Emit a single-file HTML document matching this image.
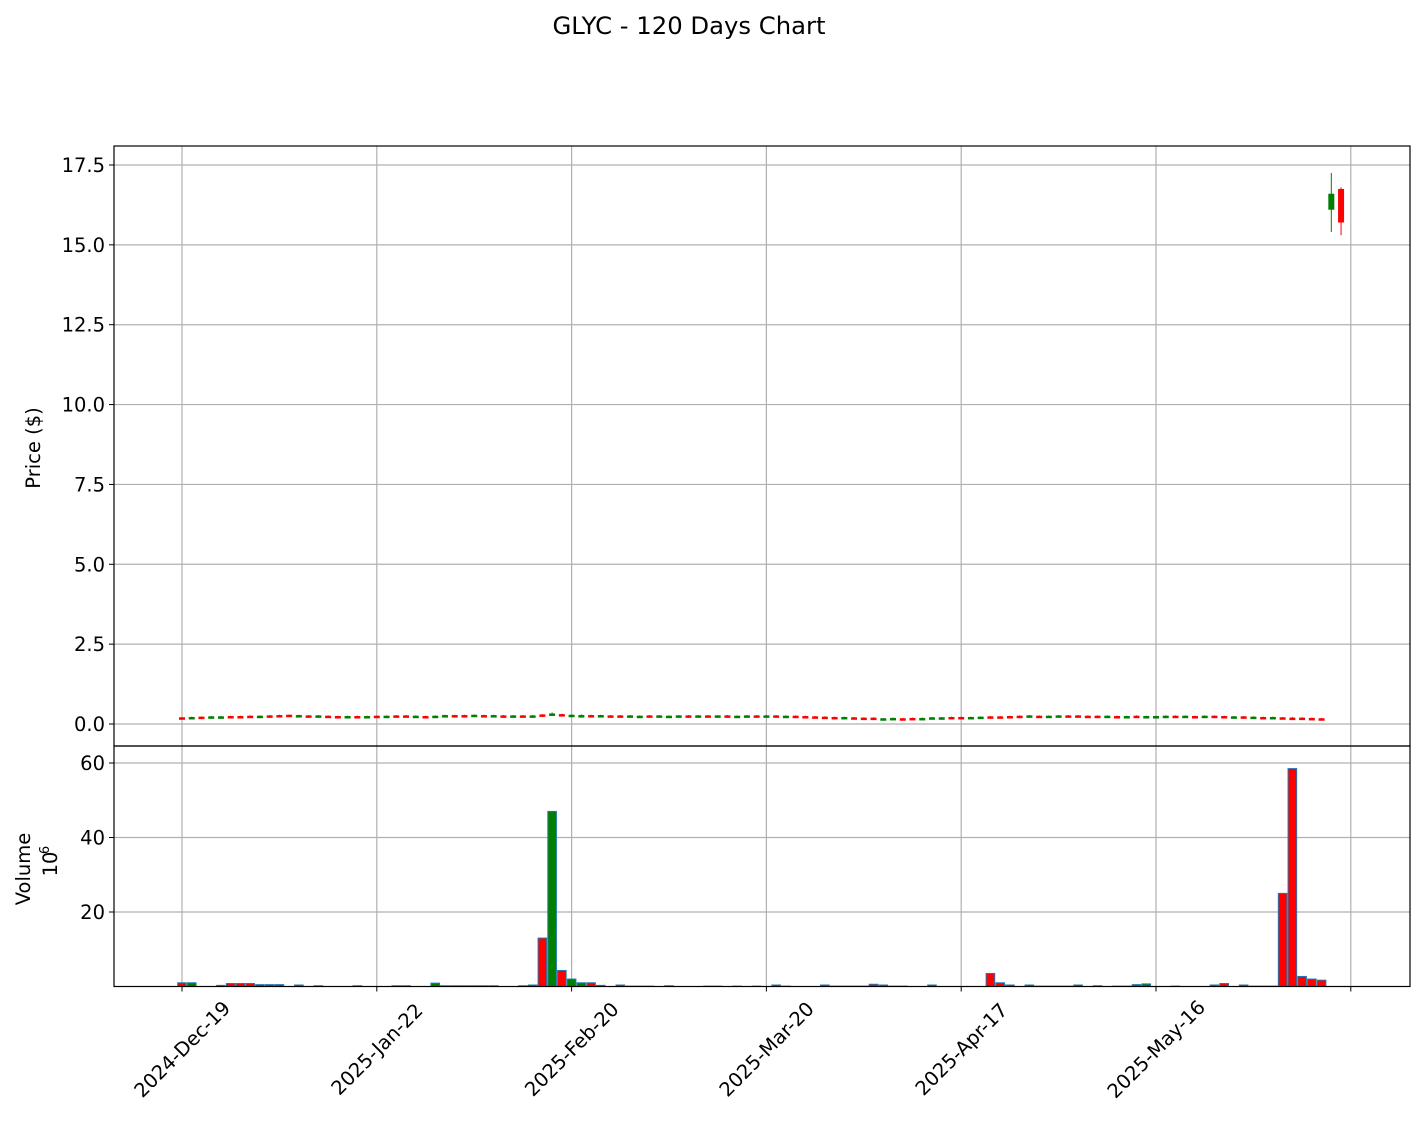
<!DOCTYPE html>
<html><head><meta charset="utf-8"><style>body{margin:0;background:#fff}svg{display:block;font-family:"DejaVu Sans","Liberation Sans",sans-serif}</style></head>
<body>
<svg id="c" width="1424" height="1127"></svg>
<script>
const tickLabels=["2024-Dec-19","2025-Jan-22","2025-Feb-20","2025-Mar-20","2025-Apr-17","2025-May-16",""];
const tickIdx=[0,20,40,60,80,100,120];
const priceTicks=[0,2.5,5,7.5,10,12.5,15,17.5];
const volTicks=[20,40,60];
const opens=[0.21,0.21,0.23,0.23,0.22,0.25,0.25,0.26,0.25,0.27,0.28,0.29,0.27,0.27,0.26,0.26,0.25,0.24,0.25,0.24,0.26,0.26,0.27,0.27,0.26,0.25,0.25,0.26,0.28,0.28,0.28,0.28,0.27,0.27,0.26,0.27,0.26,0.30,0.28,0.31,0.28,0.27,0.28,0.27,0.27,0.27,0.26,0.26,0.27,0.26,0.26,0.26,0.27,0.26,0.27,0.26,0.27,0.26,0.26,0.27,0.27,0.27,0.26,0.26,0.25,0.24,0.23,0.22,0.21,0.21,0.20,0.20,0.18,0.18,0.18,0.19,0.18,0.19,0.20,0.22,0.22,0.21,0.21,0.24,0.24,0.25,0.26,0.26,0.26,0.25,0.26,0.27,0.27,0.26,0.26,0.25,0.25,0.24,0.26,0.24,0.24,0.25,0.26,0.25,0.25,0.25,0.26,0.25,0.23,0.24,0.22,0.22,0.21,0.21,0.20,0.20,0.19,0.18,16.10,16.75];
const closes=[0.20,0.22,0.22,0.24,0.24,0.24,0.24,0.25,0.26,0.26,0.27,0.28,0.28,0.26,0.27,0.25,0.24,0.25,0.24,0.25,0.25,0.26,0.26,0.25,0.26,0.24,0.26,0.28,0.27,0.27,0.29,0.27,0.28,0.26,0.27,0.26,0.27,0.28,0.33,0.29,0.29,0.28,0.27,0.28,0.26,0.26,0.27,0.26,0.26,0.27,0.26,0.27,0.26,0.27,0.26,0.27,0.26,0.26,0.27,0.26,0.27,0.26,0.26,0.25,0.24,0.23,0.22,0.21,0.22,0.20,0.19,0.19,0.18,0.19,0.17,0.18,0.19,0.21,0.21,0.21,0.20,0.22,0.23,0.23,0.23,0.24,0.25,0.27,0.25,0.26,0.27,0.26,0.26,0.25,0.25,0.26,0.24,0.25,0.25,0.25,0.25,0.26,0.25,0.26,0.24,0.26,0.25,0.24,0.24,0.22,0.23,0.21,0.22,0.20,0.19,0.19,0.18,0.17,16.60,15.70];
const highs=[0.22,0.23,0.24,0.25,0.25,0.26,0.26,0.27,0.27,0.28,0.29,0.30,0.29,0.28,0.28,0.27,0.26,0.26,0.26,0.26,0.27,0.27,0.28,0.28,0.27,0.26,0.27,0.29,0.29,0.29,0.30,0.29,0.29,0.28,0.28,0.28,0.28,0.31,0.36,0.32,0.30,0.30,0.29,0.29,0.28,0.28,0.28,0.27,0.28,0.28,0.27,0.28,0.28,0.28,0.28,0.28,0.28,0.27,0.28,0.28,0.28,0.28,0.27,0.27,0.26,0.25,0.24,0.23,0.23,0.22,0.21,0.21,0.19,0.20,0.19,0.20,0.20,0.22,0.22,0.23,0.23,0.23,0.24,0.25,0.25,0.26,0.27,0.28,0.27,0.27,0.28,0.28,0.28,0.27,0.27,0.27,0.26,0.26,0.27,0.26,0.26,0.27,0.27,0.27,0.26,0.27,0.27,0.26,0.25,0.25,0.24,0.23,0.23,0.22,0.22,0.21,0.20,0.19,17.25,16.80];
const lows=[0.19,0.20,0.21,0.22,0.21,0.23,0.23,0.24,0.24,0.25,0.26,0.27,0.26,0.25,0.25,0.24,0.23,0.23,0.23,0.23,0.24,0.25,0.25,0.24,0.25,0.23,0.24,0.25,0.26,0.26,0.27,0.26,0.26,0.25,0.25,0.25,0.25,0.26,0.27,0.28,0.27,0.26,0.26,0.26,0.25,0.25,0.25,0.25,0.25,0.25,0.25,0.25,0.25,0.25,0.25,0.25,0.25,0.25,0.25,0.25,0.26,0.25,0.25,0.24,0.23,0.22,0.21,0.20,0.20,0.19,0.18,0.18,0.17,0.17,0.16,0.17,0.17,0.18,0.19,0.20,0.19,0.20,0.20,0.21,0.22,0.23,0.24,0.25,0.24,0.24,0.25,0.25,0.25,0.24,0.24,0.24,0.23,0.23,0.24,0.23,0.23,0.24,0.24,0.24,0.23,0.24,0.24,0.23,0.22,0.21,0.21,0.20,0.20,0.19,0.18,0.18,0.17,0.16,15.40,15.30];
const volumes=[1.0,1.0,0,0,0.3,0.8,0.8,0.8,0.5,0.5,
0.5,0,0.4,0,0.2,0,0,0,0.2,0,
0,0,0.2,0.2,0,0,0.9,0.2,0.2,0.2,
0.2,0.2,0.2,0,0,0.2,0.4,13.0,47.0,4.3,
2.0,1.0,1.0,0.3,0,0.4,0.1,0.1,0.1,0,
0.2,0,0,0,0.1,0.1,0,0.1,0,0.1,
0,0.4,0.1,0,0,0,0.4,0.1,0.1,0.1,
0.1,0.6,0.4,0.1,0.1,0,0,0.4,0,0,
0,0,0,3.5,1.0,0.4,0,0.4,0.1,0.1,
0.1,0.1,0.4,0,0.2,0,0.1,0.1,0.5,0.7,
0,0,0.1,0,0,0,0.4,0.8,0,0.4,
0.1,0.1,0.1,25.0,58.5,2.7,2.0,1.7,0,0];
const svg=document.getElementById('c');const NS='http://www.w3.org/2000/svg';
function mk(t,a,txt){const e=document.createElementNS(NS,t);for(const k in a)e.setAttribute(k,a[k]);if(txt!==undefined)e.textContent=txt;svg.appendChild(e);return e;}
const X=i=>182+9.74*i, PY=v=>724-31.943*v, VY=v=>986.5-3.725*v;
const L=114,R=1410;
for(const i of tickIdx){
 let g=mk('line',{x1:X(i),x2:X(i),y1:146,y2:746,stroke:'#b0b0b0','stroke-width':1.2});
 
 g=mk('line',{x1:X(i),x2:X(i),y1:746,y2:986,stroke:'#b0b0b0','stroke-width':1.2});
 
}
priceTicks.forEach(v=>{
 let g=mk('line',{x1:L,x2:R,y1:PY(v),y2:PY(v),stroke:'#b0b0b0','stroke-width':1.2});
 
 mk('line',{x1:L-5,x2:L,y1:PY(v),y2:PY(v),stroke:'#000'});
 let t=mk('text',{x:L-9,y:PY(v)+7,'text-anchor':'end','font-size':19.5},v.toFixed(1));
 
});
volTicks.forEach(v=>{
 let g=mk('line',{x1:L,x2:R,y1:VY(v),y2:VY(v),stroke:'#b0b0b0','stroke-width':1.2});
 
 mk('line',{x1:L-5,x2:L,y1:VY(v),y2:VY(v),stroke:'#000'});
 let t=mk('text',{x:L-9,y:VY(v)+7,'text-anchor':'end','font-size':19.5},String(v));
 
});
opens.forEach((o,i)=>{
 const c=closes[i],col=c>=o?'#008000':'#ff0000';
 let w=mk('line',{x1:X(i),x2:X(i),y1:PY(highs[i]),y2:PY(lows[i]),stroke:col,'stroke-width':1});
 
 const t=Math.min(PY(o),PY(c)),h=Math.max(2.5,Math.abs(PY(o)-PY(c)));
 let b=mk('rect',{x:X(i)-3,y:t,width:6,height:h,fill:col});
 
});
volumes.forEach((v,i)=>{
 if(v<=0)return;
 const col=closes[i]>=opens[i]?'#008000':'#ff0000';
 let b=mk('rect',{x:X(i)-4.3,y:VY(v),width:8.6,height:986.5-VY(v),fill:col,stroke:'#1f77b4','stroke-width':1});
 
});
let f=mk('rect',{x:L,y:146,width:R-L,height:600,fill:'none',stroke:'#000','stroke-width':1.2});

f=mk('rect',{x:L,y:746,width:R-L,height:240.5,fill:'none',stroke:'#000','stroke-width':1.2});

tickIdx.forEach((i,k)=>{
 mk('line',{x1:X(i),x2:X(i),y1:986.5,y2:991.5,stroke:'#000'});
 if(!tickLabels[k])return;
 const cx=X(i),cy=1049;
 let t=mk('text',{x:cx,y:cy+7,'text-anchor':'middle','font-size':19.5,transform:`rotate(-45 ${cx} ${cy})`},tickLabels[k]);
 
});
let t=mk('text',{x:689,y:34,'text-anchor':'middle','font-size':24.3},'GLYC - 120 Days Chart');

t=mk('text',{x:40,y:448,'text-anchor':'middle','font-size':19.5,transform:'rotate(-90 40 448)'},'Price ($)');

t=mk('text',{x:30,y:869,'text-anchor':'middle','font-size':19.5,transform:'rotate(-90 30 869)'},'Volume');

t=mk('text',{x:57,y:864,'text-anchor':'middle','font-size':19.5,transform:'rotate(-90 57 864)'},'10');

mk('text',{x:49,y:850,'text-anchor':'middle','font-size':13,transform:'rotate(-90 49 850)'},'6');
</script>
</body></html>
